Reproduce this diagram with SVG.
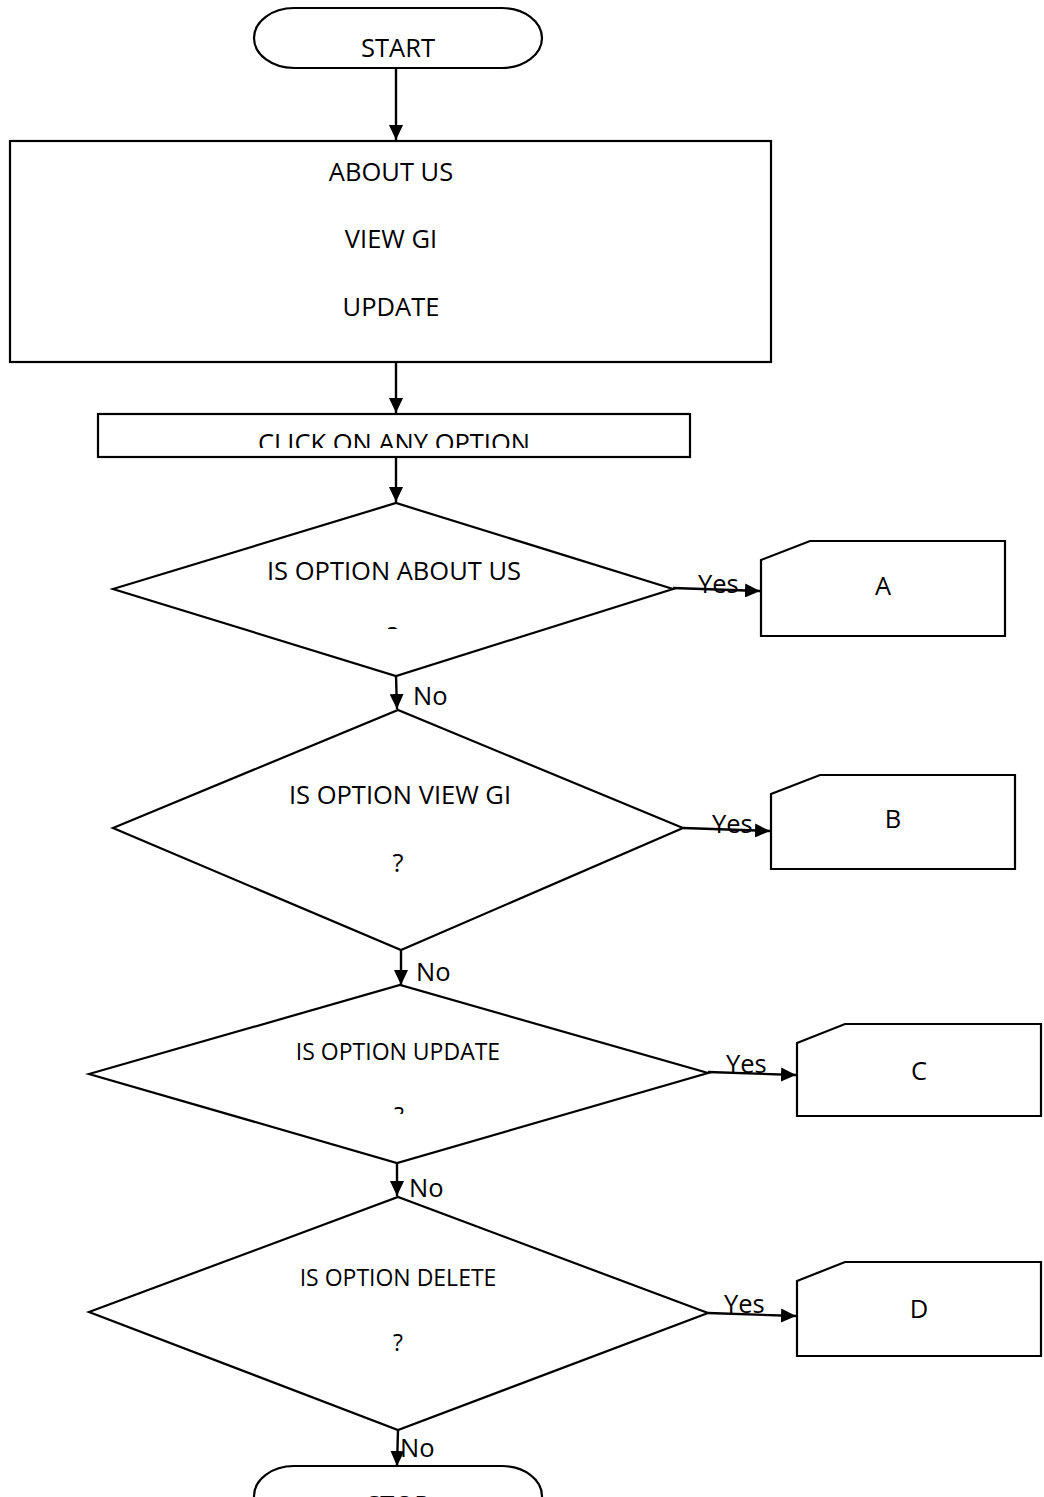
<svg xmlns="http://www.w3.org/2000/svg" width="1044" height="1497" viewBox="0 0 1044 1497">
<defs>
<style>
.s{fill:#fff;stroke:#000;stroke-width:2.2}
.c{fill:none;stroke:#000;stroke-width:2.4}
text{font-family:"Open Sans","Liberation Sans",sans-serif;font-size:25.5px;fill:#000}
.m{text-anchor:middle}
.sm{font-size:23px}
</style>
<marker id="ah" markerUnits="userSpaceOnUse" markerWidth="16" markerHeight="14" refX="15" refY="7" orient="auto">
<path d="M0,0 L15,7 L0,14 z" fill="#000"/>
</marker>
<clipPath id="clipClick"><rect x="98" y="413" width="592" height="35"/></clipPath>
<clipPath id="clipQ1"><rect x="370" y="600" width="50" height="29"/></clipPath>
<clipPath id="clipQ3"><rect x="370" y="1090" width="50" height="24"/></clipPath>
</defs>
<rect width="1044" height="1497" fill="#fff"/>
<g id="connectors">
<line class="c" x1="396" y1="68" x2="396" y2="140" marker-end="url(#ah)"/>
<line class="c" x1="396" y1="362" x2="396" y2="413" marker-end="url(#ah)"/>
<line class="c" x1="396" y1="458" x2="396" y2="502" marker-end="url(#ah)"/>
<line class="c" x1="396" y1="676" x2="397" y2="709" marker-end="url(#ah)"/>
<line class="c" x1="401" y1="950" x2="401" y2="985" marker-end="url(#ah)"/>
<line class="c" x1="397" y1="1163" x2="397" y2="1196" marker-end="url(#ah)"/>
<line class="c" x1="398" y1="1430" x2="397" y2="1466" marker-end="url(#ah)"/>
<line class="c" x1="673" y1="588" x2="760" y2="591" marker-end="url(#ah)"/>
<line class="c" x1="683" y1="828" x2="770" y2="831" marker-end="url(#ah)"/>
<line class="c" x1="708" y1="1072" x2="796" y2="1075" marker-end="url(#ah)"/>
<line class="c" x1="708" y1="1313" x2="796" y2="1316" marker-end="url(#ah)"/>
<text x="698" y="593">Yes</text>
<text x="712" y="833">Yes</text>
<text x="726" y="1073">Yes</text>
<text x="724" y="1313">Yes</text>
<text x="413" y="705">No</text>
<text x="416" y="981">No</text>
<text x="409" y="1197">No</text>
<text x="400" y="1457">No</text>
</g>
<g id="start">
<rect class="s" x="254" y="8" width="288" height="60" rx="40" ry="30"/>
<text class="m" x="398" y="57">START</text>
</g>
<g id="menu">
<rect class="s" x="10" y="141" width="761" height="221"/>
<text class="m" x="391" y="181">ABOUT US</text>
<text class="m" x="391" y="248">VIEW GI</text>
<text class="m" x="391" y="316">UPDATE</text>
</g>
<g id="click">
<rect class="s" x="98" y="414" width="592" height="43"/>
<text class="m" x="394" y="452" clip-path="url(#clipClick)">CLICK ON ANY OPTION</text>
</g>
<g id="d1">
<polygon class="s" points="113,589 396,503 673,589 396,676"/>
<text class="m" x="394" y="580">IS OPTION ABOUT US</text>
<text class="m" x="393" y="645" clip-path="url(#clipQ1)">?</text>
</g>
<g id="d2">
<polygon class="s" points="113,828 398,710 683,828 401,950"/>
<text class="m" x="400" y="804">IS OPTION VIEW GI</text>
<text class="m" x="398" y="872">?</text>
</g>
<g id="d3">
<polygon class="s" points="89,1074 400,985 708,1073 397,1163"/>
<text class="m sm" x="398" y="1060">IS OPTION UPDATE</text>
<text class="m sm" x="399" y="1124" clip-path="url(#clipQ3)">?</text>
</g>
<g id="d4">
<polygon class="s" points="89,1312 398,1197 708,1313 398,1430"/>
<text class="m sm" x="398" y="1286">IS OPTION DELETE</text>
<text class="m sm" x="398" y="1351">?</text>
</g>
<g id="a">
<polygon class="s" points="761,560 810,541 1005,541 1005,636 761,636"/>
<text class="m" x="883" y="595">A</text>
</g>
<g id="b">
<polygon class="s" points="771,794 820,775 1015,775 1015,869 771,869"/>
<text class="m" x="893" y="828">B</text>
</g>
<g id="c">
<polygon class="s" points="797,1043 845,1024 1041,1024 1041,1116 797,1116"/>
<text class="m" x="919" y="1080">C</text>
</g>
<g id="d">
<polygon class="s" points="797,1281 845,1262 1041,1262 1041,1356 797,1356"/>
<text class="m" x="919" y="1318">D</text>
</g>
<g id="stop">
<rect class="s" x="254" y="1466" width="288" height="60" rx="40" ry="30"/>
<text class="m" x="398" y="1514">STOP</text>
</g>
</svg>
